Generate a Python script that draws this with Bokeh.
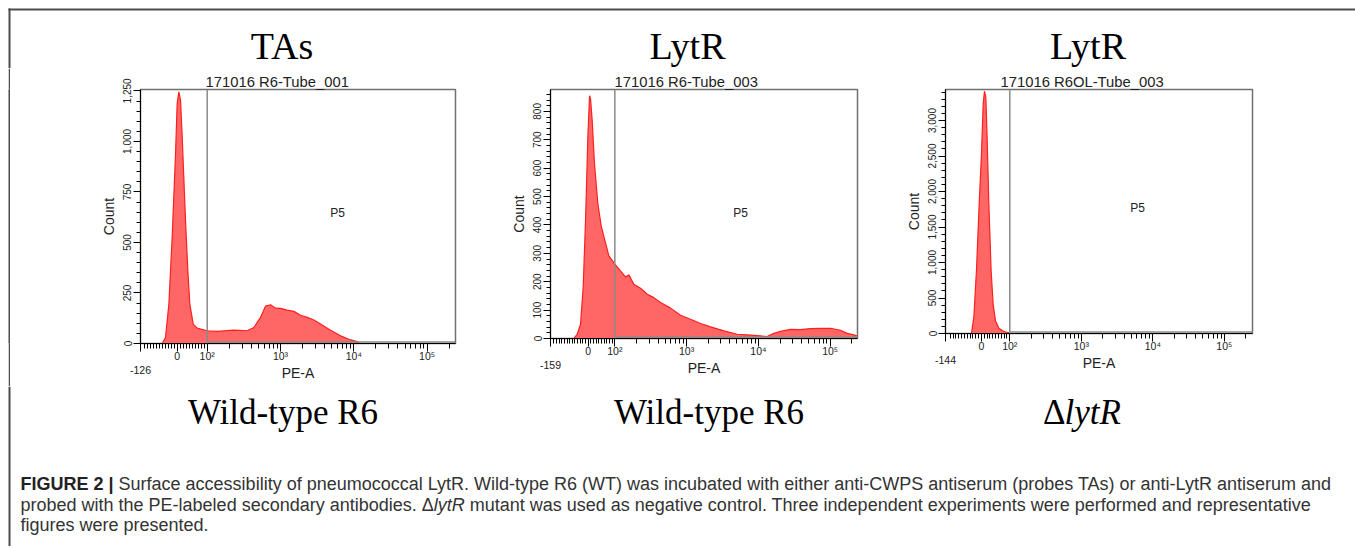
import math
from bokeh.plotting import figure
from bokeh.models import Range1d, FixedTicker, NumeralTickFormatter, Label, Span
from bokeh.layouts import row, column
from bokeh.embed import file_html
from bokeh.resources import INLINE

# ---------------- data ----------------
# x: position on the biexponential PE-A display, in decades (2 -> 10^2, 3 -> 10^3, ...)
tas_wt_pos = [1.386, 1.431, 1.477, 1.522, 1.568, 1.590, 1.613, 1.636, 1.659, 1.704,
              1.736, 1.763, 1.809, 1.863, 2.0, 2.136, 2.363, 2.545, 2.636, 2.727,
              2.795, 2.864, 2.932, 3.0, 3.091, 3.182, 3.273, 3.364, 3.455, 3.546,
              3.682, 3.819, 3.932, 4.046, 4.069]
tas_wt_count = [0, 30, 195, 526, 939, 1187, 1245, 1204, 1022, 608,
                360, 195, 96, 76, 63, 60, 66, 63, 79, 129,
                185, 192, 175, 174, 165, 159, 140, 129, 116, 96,
                66, 38, 21, 10, 0]

lytr_wt_pos = [1.429, 1.476, 1.522, 1.559, 1.592, 1.624, 1.648, 1.662, 1.685, 1.717,
               1.764, 1.810, 1.857, 1.917, 2.0, 2.079, 2.149, 2.195, 2.265, 2.358,
               2.451, 2.544, 2.636, 2.776, 2.915, 3.054, 3.194, 3.333, 3.519, 3.704,
               3.890, 4.029, 4.122, 4.215, 4.308, 4.447, 4.586, 4.726, 4.865, 5.004,
               5.143, 5.236, 5.329, 5.376]
lytr_wt_count = [0, 15, 50, 180, 415, 708, 855, 843, 767, 614,
                 473, 397, 350, 291, 262, 238, 217, 224, 191, 177,
                 156, 144, 127, 107, 82, 68, 53, 41, 27, 15,
                 12, 9, 7, 18, 25, 32, 31, 35, 36, 36,
                 29, 18, 13, 9]

lytr_ko_pos = [1.464, 1.497, 1.534, 1.572, 1.604, 1.628, 1.646, 1.665, 1.683, 1.707,
               1.739, 1.767, 1.800, 1.847, 1.917, 2.0]
lytr_ko_count = [0, 226, 884, 1824, 2529, 3234, 3413, 3328, 2764, 1824,
                 884, 414, 179, 75, 28, 5]

headers = ["TAs", "LytR", "LytR"]
tubes = ["171016 R6-Tube_001", "171016 R6-Tube_003", "171016 R6OL-Tube_003"]
strains = ["Wild-type R6", "Wild-type R6", "\u0394lytR"]
neg_limits = ["-126", "-159", "-144"]
y_major = [list(range(0, 1251, 250)), list(range(0, 801, 100)), list(range(0, 3001, 500))]
y_minor_step = [50, 20, 100]
gate_name = "P5"
gate_low = 2.0  # 10^2

caption_bold = "FIGURE 2 |"
caption_l1 = ("Surface accessibility of pneumococcal LytR. Wild-type R6 (WT) was incubated with "
              "either anti-CWPS antiserum (probes TAs) or anti-LytR antiserum and")
caption_l2a = "probed with the PE-labeled secondary antibodies."
caption_l2b = "\u0394"
caption_l2c = "lytR"
caption_l2d = ("mutant was used as negative control. Three independent experiments were "
               "performed and representative")
caption_l3 = "figures were presented."

# ---------------- layout (page pixels; the page itself has no margin) ----------------
SANS = "Liberation Sans"
SERIF = "Liberation Serif"
TXT = "#222222"
FILL = "#ff6767"
EDGE = "#ff1f1f"
BORDER = "#4d4d4d"
PAGE_W = 1355
BX, BY = 8, 8            # top-left corner of the figure box
HEAD_H = 68
MT = 21                  # panel space above the frames (frames start at y = 89)
ROW_H = 318
FOOT_H = 160

cfgs = [
    dict(x0=1.09, x1=5.387, zero=1.591, ymax=1257, fw=315, fh=254, ml=130, mr=45, mb=43,
         left=140, off=65, p5=(337, 212)),
    dict(x0=1.104, x1=5.38, zero=1.63, ymax=877, fw=307, fh=249, ml=50, mr=43, mb=48,
         left=550, off=64, p5=(740, 212)),
    dict(x0=1.101, x1=5.394, zero=1.604, ymax=3437, fw=307, fh=244, ml=45, mr=103, mb=53,
         left=945, off=55, p5=(1137, 207)),
]
FRAME_TOP = HEAD_H + MT
header_x = [281.5, 687, 1087.5]
strain_x = [282.5, 708.5, 1081.5]
K_SERIF, K_SANS = 0.3375, 0.3465   # baseline -> middle of the em box

AR = {' ': 278, 'a': 556, 'b': 556, 'c': 500, 'd': 556, 'e': 556, 'f': 278, 'g': 556, 'h': 556,
      'i': 222, 'j': 222, 'k': 500, 'l': 222, 'm': 833, 'n': 556, 'o': 556, 'p': 556, 'q': 556,
      'r': 333, 's': 500, 't': 278, 'u': 556, 'v': 500, 'w': 722, 'x': 500, 'y': 500, 'z': 500,
      'P': 667, 'E': 667, '-': 333, '.': 278, ',': 278, '\u0394': 668, 'R': 722, 'L': 556}
ARB = {'F': 611, 'I': 278, 'G': 778, 'U': 722, 'R': 722, 'E': 667, ' ': 278, '2': 556, '|': 280}


def tw(s, table, size):
    return sum(table.get(c, 556) for c in s) / 1000.0 * size


def xd(c, px):
    return c["x0"] + (px - c["left"]) / c["fw"] * (c["x1"] - c["x0"])


def yd(c, py):
    return c["ymax"] * (FRAME_TOP + c["fh"] - py) / c["fh"]


def make_panel(i, pos, count):
    c = cfgs[i]
    p = figure(frame_width=c["fw"], frame_height=c["fh"], title=tubes[i],
               x_range=Range1d(c["x0"], c["x1"]), y_range=Range1d(0, c["ymax"]),
               output_backend="svg", toolbar_location=None,
               min_border_left=c["ml"], min_border_right=c["mr"],
               min_border_top=MT, min_border_bottom=c["mb"])
    p.title.align = "left"
    p.title.offset = c["off"]
    p.title.standoff = 0
    p.title.text_font = SANS
    p.title.text_font_size = "14.8px"
    p.title.text_font_style = "normal"
    p.title.text_color = TXT
    p.xgrid.visible = False
    p.ygrid.visible = False
    p.outline_line_color = "#707070"
    p.outline_line_width = 1.5

    # histogram
    p.varea(x=pos, y1=[0] * len(pos), y2=count, fill_color=FILL, fill_alpha=1.0)
    p.line(x=pos, y=count, line_color=EDGE, line_width=1.2)

    # gate P5
    p.add_layout(Span(location=gate_low, dimension="height", line_color="#8a8a8a", line_width=1.5))
    gy = yd(c, FRAME_TOP + c["fh"] - 1.5)
    p.segment(x0=[gate_low], y0=[gy], x1=[c["x1"]], y1=[gy], line_color="#8a8a8a", line_width=1.5)
    p.add_layout(Label(x=xd(c, c["p5"][0]), y=yd(c, c["p5"][1]), text=gate_name,
                       text_font=SANS, text_font_size="12px", text_color=TXT,
                       text_align="center", text_baseline="middle"))

    # x axis (biexponential display)
    slope = (2.0 - c["zero"]) / 100.0
    majors = [round(c["x0"], 4), round(c["zero"], 4), 2.0, 3.0, 4.0, 5.0]
    minors = []
    for v in range(-150, 100, 10):
        d = c["zero"] + v * slope
        if v != 0 and d > c["x0"] + 0.03:
            minors.append(round(d, 4))
    for n in range(2, 6):
        for k in range(2, 10):
            d = math.log10(k * 10 ** n)
            if d < c["x1"]:
                minors.append(round(d, 4))
    xa = p.xaxis[0]
    xa.ticker = FixedTicker(ticks=majors, minor_ticks=minors)
    xa.major_label_overrides = {majors[0]: "\n" + neg_limits[i], majors[1]: "0",
                                2.0: "10\u00b2", 3.0: "10\u00b3", 4.0: "10\u2074", 5.0: "10\u2075"}
    xa.major_tick_out = 8
    xa.major_tick_in = 0
    xa.minor_tick_out = 5
    xa.minor_tick_in = 0
    xa.major_label_standoff = -2
    xa.major_label_text_font = SANS
    xa.major_label_text_font_size = "10.5px"
    xa.major_label_text_color = TXT
    xa.axis_label = "PE-A"
    xa.axis_label_text_font = SANS
    xa.axis_label_text_font_size = "14px"
    xa.axis_label_text_font_style = "normal"
    xa.axis_label_text_color = TXT
    xa.axis_label_standoff = -14
    xa.axis_line_color = "black"

    # y axis
    ya = p.yaxis[0]
    step = y_minor_step[i]
    ya.ticker = FixedTicker(ticks=y_major[i],
                            minor_ticks=[v for v in range(0, int(c["ymax"]), step) if v not in y_major[i]])
    ya.formatter = NumeralTickFormatter(format="0,0")
    ya.major_label_orientation = "vertical"
    ya.major_tick_out = 7
    ya.major_tick_in = 0
    ya.minor_tick_out = 4
    ya.minor_tick_in = 0
    ya.major_label_standoff = 2
    ya.major_label_text_font = SANS
    ya.major_label_text_font_size = "10px"
    ya.major_label_text_color = TXT
    ya.axis_label = "Count"
    ya.axis_label_text_font = SANS
    ya.axis_label_text_font_size = "14px"
    ya.axis_label_text_font_style = "normal"
    ya.axis_label_text_color = TXT
    ya.axis_label_standoff = 4
    ya.axis_line_color = "black"
    return p


p1 = make_panel(0, tas_wt_pos, tas_wt_count)
p2 = make_panel(1, lytr_wt_pos, lytr_wt_count)
p3 = make_panel(2, lytr_ko_pos, lytr_ko_count)


def bare(w, h, xr, yr, **kw):
    f = figure(frame_width=w, frame_height=h, x_range=xr, y_range=yr, output_backend="svg",
               toolbar_location=None, x_axis_type=None, y_axis_type=None, **kw)
    f.outline_line_color = None
    f.xgrid.visible = False
    f.ygrid.visible = False
    return f


def text_strip(y_top, h):
    """A bare figure whose data units are page pixels (x right, y down)."""
    f = bare(PAGE_W, h, Range1d(0, PAGE_W), Range1d(y_top + h, y_top), min_border=0)
    top = max(y_top, BY)
    f.quad(left=[BX], right=[BX + 2], top=[top], bottom=[y_top + h],
           fill_color=BORDER, line_color=None)
    return f


def slabel(f, x, base, text, font, size, style="normal", align="center", color="black"):
    k = K_SERIF if font == SERIF else K_SANS
    f.add_layout(Label(x=x, y=base - k * size, text=text, text_font=font,
                       text_font_size=f"{size}px", text_font_style=style, text_color=color,
                       text_align=align, text_baseline="middle"))


# ---------------- header strip (antigen names) ----------------
head = text_strip(0, HEAD_H)
head.quad(left=[BX], right=[PAGE_W], top=[BY], bottom=[BY + 2], fill_color=BORDER, line_color=None)
for i in range(3):
    slabel(head, header_x[i], 58, headers[i], SERIF, 38)


# ---------------- left margin and border beside the panels ----------------
def edge_piece(w, color):
    f = bare(w, cfgs[0]["fh"], Range1d(0, 1), Range1d(0, 1), min_border_left=0, min_border_right=0,
             min_border_top=MT, min_border_bottom=cfgs[0]["mb"])
    f.background_fill_color = color
    f.border_fill_color = color
    return f


gap = edge_piece(BX, "white")
bar = edge_piece(2, BORDER)

# ---------------- footer strip (strains + caption) ----------------
FOOT_Y = HEAD_H + ROW_H
foot = text_strip(FOOT_Y, FOOT_H)
SS = 35
SB = 424
for i in range(2):
    slabel(foot, strain_x[i], SB, strains[i], SERIF, SS)
wd = 0.612 * SS
wl = (0.278 + 0.444 + 0.278 + 0.611) * SS
xs = strain_x[2] - (wd + wl) / 2
slabel(foot, xs, SB, strains[2][0], SERIF, SS, align="left")
slabel(foot, xs + wd, SB, strains[2][1:], SERIF, SS, style="italic", align="left")

CS = 18
x_left = 20
base = [490, 510.5, 531]
CAP = "#333333"

slabel(foot, x_left, base[0], caption_bold, SANS, CS, "bold", "left", "#222222")
slabel(foot, x_left + tw(caption_bold + " ", ARB, CS), base[0], caption_l1, SANS, CS, align="left", color=CAP)
xc = x_left
slabel(foot, xc, base[1], caption_l2a, SANS, CS, align="left", color=CAP)
xc += tw(caption_l2a + " ", AR, CS)
slabel(foot, xc, base[1], caption_l2b, SANS, CS, align="left", color=CAP)
xc += tw(caption_l2b, AR, CS)
slabel(foot, xc, base[1], caption_l2c, SANS, CS, "italic", "left", CAP)
xc += tw(caption_l2c + " ", AR, CS)
slabel(foot, xc, base[1], caption_l2d, SANS, CS, align="left", color=CAP)
slabel(foot, x_left, base[2], caption_l3, SANS, CS, align="left", color=CAP)

layout = column(head, row(gap, bar, p1, p2, p3), foot)

open("out.html", "w").write(file_html(layout, INLINE))
